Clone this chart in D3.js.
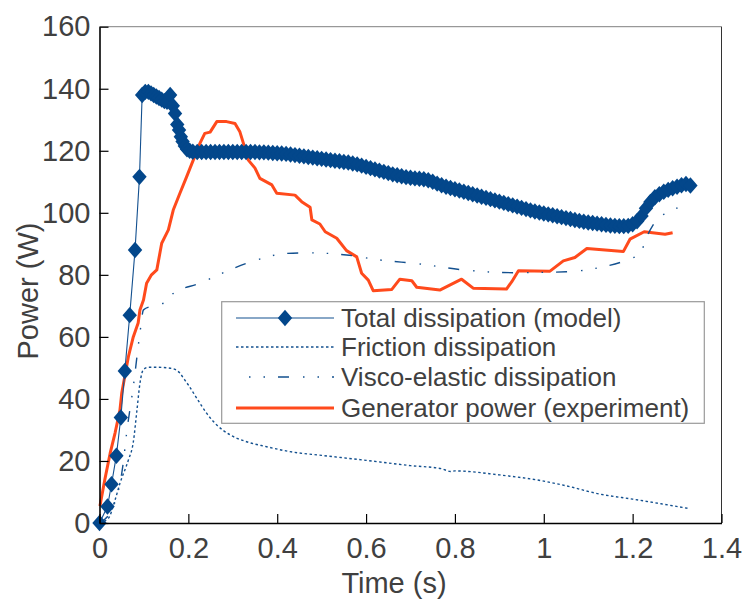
<!DOCTYPE html>
<html>
<head>
<meta charset="utf-8">
<script src="https://cdn.jsdelivr.net/npm/d3@7"></script>
<style>
  body { margin: 0; background: #fff; }
  text { font-family: "Liberation Sans", Arial, sans-serif; fill: #404040; }
</style>
</head>
<body>
<svg width="745" height="607"></svg>
<script>
// total dissipation (model) - diamonds
var tTotal = [0, 0.018, 0.027, 0.038, 0.048, 0.057, 0.068, 0.080, 0.090, 0.096, 0.103, 0.110, 0.116, 0.122, 0.128, 0.134, 0.140, 0.146, 0.152, 0.159,
  0.165, 0.170, 0.175, 0.179, 0.183, 0.187, 0.192, 0.197, 0.203, 0.21,
  0.22, 0.23, 0.24, 0.25, 0.26, 0.27, 0.28, 0.29, 0.30, 0.31, 0.32, 0.33, 0.34, 0.35, 0.36, 0.37, 0.38, 0.39, 0.40,
  0.41, 0.42, 0.43, 0.44, 0.45, 0.46, 0.47, 0.48, 0.49, 0.50, 0.51, 0.52, 0.53, 0.54, 0.55, 0.56, 0.57, 0.58, 0.59, 0.60,
  0.61, 0.62, 0.63, 0.64, 0.65, 0.66, 0.67, 0.68, 0.69, 0.70, 0.71, 0.72, 0.73, 0.74, 0.75, 0.76, 0.77, 0.78, 0.79, 0.80,
  0.81, 0.82, 0.83, 0.84, 0.85, 0.86, 0.87, 0.88, 0.89, 0.90, 0.91, 0.92, 0.93, 0.94, 0.95, 0.96, 0.97, 0.98, 0.99, 1.00,
  1.01, 1.02, 1.03, 1.04, 1.05, 1.06, 1.07, 1.08, 1.09, 1.10, 1.11, 1.12, 1.13, 1.14, 1.15, 1.16, 1.17, 1.18, 1.19, 1.20,
  1.21, 1.22, 1.23, 1.24, 1.25, 1.26, 1.27, 1.28, 1.29, 1.30, 1.31, 1.32, 1.33];
var pTotal = [0, 5.3, 12.5, 21.7, 34, 49, 67, 88, 111.6, 138, 139, 139, 138.5, 138, 137.5, 137, 136.5, 136, 135.8, 138,
  134.5, 132, 128.5, 126.7, 124.5, 123, 121.5, 120.5, 120, 119.7,
  119.6, 119.6, 119.6, 119.6, 119.6, 119.6, 119.6, 119.6, 119.6, 119.6, 119.6, 119.6, 119.6, 119.6, 119.5, 119.5, 119.4, 119.3, 119.2,
  119.1, 119.0, 118.8, 118.6, 118.4, 118.2, 118.0, 117.8, 117.6, 117.4, 117.2, 117.0, 116.8, 116.6, 116.4, 116.2, 115.9, 115.6, 115.2, 114.8,
  114.4, 114.0, 113.6, 113.2, 112.8, 112.4, 112.1, 111.8, 111.5, 111.3, 111.1, 111.0, 110.8, 110.5, 110.0, 109.4, 108.9, 108.4, 108.0, 107.6,
  107.2, 106.8, 106.4, 106.0, 105.6, 105.2, 104.8, 104.4, 104.0, 103.6, 103.2, 102.8, 102.4, 102.0, 101.6, 101.2, 100.8, 100.4, 100.1, 99.8,
  99.5, 99.2, 98.9, 98.6, 98.3, 98.0, 97.7, 97.4, 97.1, 96.9, 96.7, 96.5, 96.3, 96.1, 95.9, 95.8, 95.7, 95.7, 95.8, 96.3,
  97.3, 99.0, 101.5, 103.5, 105.0, 106.0, 106.8, 107.4, 107.9, 108.4, 108.9, 109.3, 108.8];

// friction dissipation
var tFriction = [0, 0.02, 0.035, 0.046, 0.065, 0.076, 0.084, 0.091, 0.099, 0.11, 0.13, 0.159, 0.17, 0.181, 0.19, 0.2, 0.219, 0.241, 0.264, 0.294,
  0.331, 0.376, 0.429, 0.5, 0.6, 0.7, 0.77, 0.78, 0.79, 0.8, 0.9, 1.0, 1.05, 1.127, 1.2, 1.325];
var pFriction = [0, 1.5, 7.4, 12.8, 20.3, 26, 36, 45, 49.5, 50.2, 50.2, 49.9, 49.5, 48.3, 46.5, 44.5, 40.2, 35.4, 31.6, 28.4,
  26.2, 24.6, 23, 21.8, 20.2, 18.5, 17.5, 17.0, 16.6, 16.8, 15.5, 13.5, 12.0, 9.3, 7.7, 4.7];

// visco-elastic dissipation
var tVisco = [0, 0.03, 0.054, 0.061, 0.076, 0.091, 0.099, 0.12, 0.151, 0.166, 0.226, 0.279, 0.354, 0.421, 0.474, 0.556, 0.631, 0.721, 0.819, 0.931,
  1.051, 1.127, 1.187, 1.217, 1.232, 1.254, 1.284, 1.31];
var pVisco = [0, 5, 20, 28.9, 43.9, 61.2, 68.7, 70, 71.3, 74, 77.3, 80.7, 84.8, 86.9, 87.1, 86.4, 84.8, 83.5, 81.6, 80.7,
  81, 82.4, 84.8, 86.9, 92.3, 97.7, 100.4, 102.2];

// generator power (experiment)
var tGen = [0.001, 0.012, 0.024, 0.035, 0.046, 0.05, 0.065, 0.076, 0.087, 0.091, 0.099, 0.106, 0.117, 0.129, 0.14, 0.155, 0.166, 0.181, 0.196, 0.211,
  0.226, 0.237, 0.249, 0.264, 0.286, 0.305, 0.316, 0.324, 0.335, 0.35, 0.361, 0.388, 0.399, 0.44, 0.455, 0.474, 0.478, 0.496, 0.508, 0.534,
  0.556, 0.579, 0.59, 0.605, 0.616, 0.658, 0.676, 0.703, 0.714, 0.766, 0.815, 0.841, 0.916, 0.928, 0.943, 1.014, 1.044, 1.07, 1.097, 1.179,
  1.194, 1.226, 1.273, 1.29];
var pGen = [5.5, 14, 22.5, 29, 36.4, 41.8, 53.6, 60, 64.5, 68.7, 71.9, 77.3, 80, 81.6, 90.2, 94.5, 100.9, 106.3, 111.6, 117,
  122.4, 125.6, 126, 129.4, 129.4, 128.8, 126.1, 122.4, 117, 114.4, 111.1, 109, 106.3, 105.7, 103.6, 101.8, 97.7, 96.4, 93.9, 91.8,
  87.8, 85.8, 80.5, 78.3, 74.9, 75.3, 78.6, 78.1, 76, 75.1, 78.6, 75.7, 75.4, 77.8, 81.3, 81.2, 84.5, 85.6, 88.5, 87.5,
  91.5, 93.9, 93.1, 93.6];

var xTicks = [0, 0.2, 0.4, 0.6, 0.8, 1, 1.2, 1.4];
var yTicks = [0, 20, 40, 60, 80, 100, 120, 140, 160];
var legendLabels = ["Total dissipation (model)", "Friction dissipation", "Visco-elastic dissipation", "Generator power (experiment)"];

var BLUE = "#03478b", BLUE_LINE = "#13508f", ORANGE = "#ff4a1c";

var svg = d3.select("svg");
var pLeft = 99.5, pRight = 721.5, pTop = 26.7, pBottom = 523;

var x = d3.scaleLinear().domain([0, 1.4]).range([pLeft, pRight]);
var y = d3.scaleLinear().domain([0, 160]).range([pBottom, pTop]);

function zip(ts, ps) { return ts.map(function(t, i) { return [t, ps[i]]; }); }

var line = d3.line()
    .x(function(d) { return x(d[0]); })
    .y(function(d) { return y(d[1]); });
var smooth = d3.line()
    .x(function(d) { return x(d[0]); })
    .y(function(d) { return y(d[1]); })
    .curve(d3.curveMonotoneX);

// box top/right
svg.append("line").attr("x1", pLeft).attr("x2", pRight).attr("y1", pTop).attr("y2", pTop)
  .attr("stroke", "#808080").attr("stroke-width", 1);
svg.append("line").attr("x1", pRight).attr("x2", pRight).attr("y1", pTop).attr("y2", pBottom)
  .attr("stroke", "#333").attr("stroke-width", 1);

var plot = svg.append("g");

plot.append("path").datum(zip(tGen, pGen))
  .attr("d", line).attr("fill", "none").attr("stroke", ORANGE)
  .attr("stroke-width", 3).attr("stroke-linejoin", "round");

plot.append("path").datum(zip(tFriction, pFriction))
  .attr("d", smooth).attr("fill", "none").attr("stroke", BLUE_LINE)
  .attr("stroke-width", 1.4).attr("stroke-dasharray", "2.5,2.5");

plot.append("path").datum(zip(tVisco, pVisco))
  .attr("d", smooth).attr("fill", "none").attr("stroke", BLUE_LINE)
  .attr("stroke-width", 1.4).attr("stroke-dasharray", "11,14,1.5,13,1.5,13");

plot.append("path").datum(zip(tTotal, pTotal))
  .attr("d", line).attr("fill", "none").attr("stroke", BLUE_LINE)
  .attr("stroke-width", 1.1);

var diamond = "M0,-8.2L7.2,0L0,8.2L-7.2,0Z";
plot.selectAll("path.mk").data(zip(tTotal, pTotal)).enter().append("path")
  .attr("class", "mk")
  .attr("d", diamond)
  .attr("transform", function(d) { return "translate(" + x(d[0]) + "," + y(d[1]) + ")"; })
  .attr("fill", BLUE);

// axes
var xAxis = svg.append("g").attr("transform", "translate(0," + pBottom + ")")
  .call(d3.axisBottom(x).tickValues(xTicks).tickFormat(d3.format("~g"))
    .tickSizeInner(-9).tickSizeOuter(0).tickPadding(14));
var yAxis = svg.append("g").attr("transform", "translate(" + pLeft + ",0)")
  .call(d3.axisLeft(y).tickValues(yTicks).tickSizeInner(-9).tickSizeOuter(0).tickPadding(9));

[xAxis, yAxis].forEach(function(a) {
  a.select(".domain").attr("stroke", "#000").attr("stroke-width", 1.6);
  a.selectAll(".tick line").attr("stroke", "#000").attr("stroke-width", 1.2);
  a.selectAll(".tick text").style("font-size", "29px").attr("fill", "#404040")
    .style("font-family", "'Liberation Sans', Arial, sans-serif");
});

svg.append("text").attr("x", 394).attr("y", 593).attr("text-anchor", "middle")
  .style("font-size", "29px").text("Time (s)");
svg.append("text").attr("transform", "translate(38,291) rotate(-90)").attr("text-anchor", "middle")
  .style("font-size", "29px").text("Power (W)");

// legend
var lg = svg.append("g");
lg.append("rect").attr("x", 221.7).attr("y", 301.7).attr("width", 482.6).attr("height", 121.6)
  .attr("fill", "#fff").attr("stroke", "#999").attr("stroke-width", 1.2);
var rowY = [318, 347, 377, 408];
legendLabels.forEach(function(lab, i) {
  var yy = rowY[i];
  var l = lg.append("line").attr("x1", 236).attr("x2", 334).attr("y1", yy).attr("y2", yy).attr("fill", "none");
  if (i == 0) {
    l.attr("stroke", BLUE_LINE).attr("stroke-width", 1.1);
    lg.append("path").attr("d", diamond).attr("transform", "translate(285," + yy + ")").attr("fill", BLUE);
  } else if (i == 1) {
    l.attr("stroke", BLUE_LINE).attr("stroke-width", 1.4).attr("stroke-dasharray", "2.5,2.5");
  } else if (i == 2) {
    l.attr("stroke", BLUE_LINE).attr("stroke-width", 1.4).attr("stroke-dasharray", "1.5,13,1.5,13,11,14").attr("stroke-dashoffset", -13);
  } else {
    l.attr("stroke", ORANGE).attr("stroke-width", 3);
  }
  lg.append("text").attr("x", 341).attr("y", yy + 8.5).style("font-size", "26px").text(lab);
});
</script>
</body>
</html>
